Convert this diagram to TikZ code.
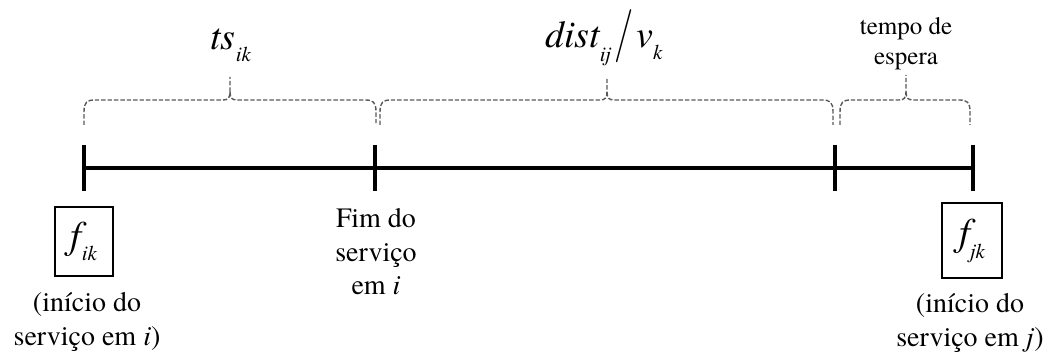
\documentclass[tikz,border=0pt]{standalone}
\usepackage{graphicx}
\usepackage{fontspec}
\setmainfont{TeX Gyre Termes}
\newfontfamily\lmfont{Latin Modern Roman}
\newcommand\lowsub[2]{\raisebox{-#1}{\fontsize{10.5}{11}\selectfont\itshape #2}}
\newcommand\mybrace[4]{% x1, x2, tip x, tip top y
  \draw[brc] (#1,125) -- (#1,112) .. controls (#1,102) and (#1+3,100) .. (#1+11,100)
    -- (#3-7,100) .. controls (#3-2,100) and (#3,98) .. (#3,92) -- (#3,#4);
  \draw[brc] (#3,92) .. controls (#3,98) and (#3+2,100) .. (#3+7,100)
    -- (#2-11,100) .. controls (#2-3,100) and (#2,102) .. (#2,112) -- (#2,125);
}
\begin{document}
\begin{tikzpicture}[x=0.5pt,y=-0.5pt,
  axis/.style={line width=1.7pt},
  brc/.style={dash pattern=on 2.2pt off 1pt, black!65, line width=0.7pt},
  lbl/.style={align=center, font=\fontsize{14}{16.75}\selectfont, inner sep=0pt},
  small/.style={align=center, font=\fontsize{12.5}{15}\selectfont, inner sep=0pt},
  big/.style={font=\fontsize{19}{22}\selectfont\itshape, inner sep=0pt},
  fbx/.style={draw, line width=0.6pt, inner sep=0pt, font=\fontsize{19.5}{22}\selectfont\itshape}]
\useasboundingbox (0,0) rectangle (1052,356);
% axis
\coordinate (t0) at (84,168);
\coordinate (t1) at (375,168);
\coordinate (t2) at (835,168);
\coordinate (t3) at (973,168);
\draw[axis] (t0) -- (t3);
\foreach \t in {t0,t1,t2,t3}{\draw[axis] (\t) ++(0,-23) -- ++(0,46);}
% braces
\mybrace{84}{376}{230}{77}
\mybrace{380}{833}{607}{77}
\mybrace{840}{970}{906}{75}
% labels above
\node[big, anchor=base west] (ts) at (210,50) {ts\lowsub{6pt}{ik}};
\node[big, anchor=base west] (dist) at (545,48) {dist\lowsub{7pt}{ij}\hspace{2pt}\raisebox{-1pt}{\scalebox{1.1}[1.4]{\lmfont\upshape /}}\hspace{1pt}v\lowsub{6pt}{k}};
\node[small] (esp) at (906,44) {tempo de\\espera};
% below
\node[fbx, minimum width=29pt, minimum height=34.5pt] (fik) at (84,241.5) {f\lowsub{6pt}{ik}};
\node[lbl] (ini1) at (87,322) {(início do\\serviço em \textit{i})};
\node[lbl] (fim) at (376,252) {Fim do\\serviço\\em \textit{i}};
\node[fbx, minimum width=30pt, minimum height=37.5pt] (fjk) at (972,240.5) {f\lowsub{6.5pt}{jk}};
\node[lbl] (ini2) at (970,323) {(início do\\serviço em \textit{j})};
\end{tikzpicture}
\end{document}
